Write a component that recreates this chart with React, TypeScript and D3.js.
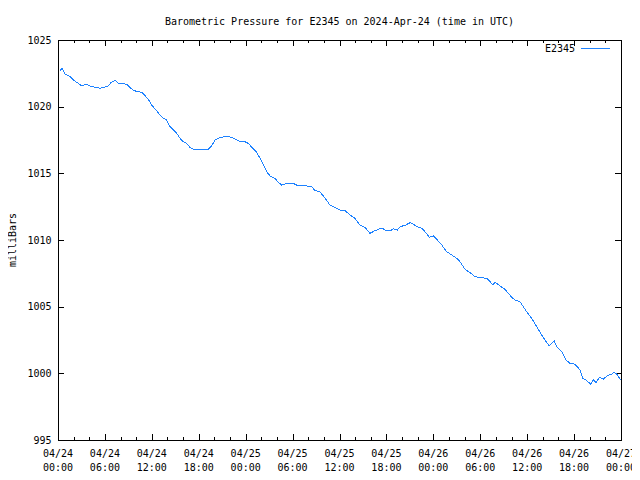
import React from "react";
import * as d3 from "d3";

const title = "Barometric Pressure for E2345 on 2024-Apr-24 (time in UTC)";
const yLabel = "milliBars";
const seriesName = "E2345";
const startTime = Date.UTC(2024, 3, 24, 0, 0);
const endTime = Date.UTC(2024, 3, 27, 0, 0);
const yTicks = [995, 1000, 1005, 1010, 1015, 1020, 1025];

// hours since 2024-04-24 00:00 UTC
const hours = [
  0.26, 0.55, 0.9, 1.53, 1.96, 2.6, 3.03, 3.58, 4.09, 4.73, 5.37, 6.01, 6.43, 6.78, 7.29, 7.71,
  8.35, 8.86, 9.21, 9.63, 10.14, 10.7, 11.13, 11.55, 11.98, 12.53, 13.05, 13.47, 13.9, 14.32,
  14.84, 15.18, 15.6, 16.03, 16.46, 16.88, 17.3, 18.16, 18.58, 19.22, 19.66, 20.08, 20.5, 21.14,
  22.0, 22.64, 23.28, 23.92, 24.47, 24.77, 25.41, 25.83, 26.26, 26.69, 27.2, 27.75, 28.17, 28.61,
  29.25, 30.09, 30.73, 31.37, 31.81, 32.45, 32.87, 33.51, 34.15, 34.79, 35.43, 36.07, 36.71,
  37.34, 37.98, 38.62, 39.26, 39.9, 40.54, 41.4, 41.82, 42.46, 42.88, 43.39, 43.74, 44.38, 45.02,
  45.44, 45.88, 46.52, 46.94, 47.49, 48.0, 48.43, 49.07, 49.71, 50.35, 50.99, 51.41, 52.05, 52.69,
  53.33, 54.19, 54.83, 55.25, 55.6, 55.89, 56.53, 57.17, 57.59, 58.03, 58.45, 59.09, 59.51, 59.94,
  60.58, 61.22, 61.86, 62.28, 62.83, 63.44, 63.78, 64.42, 64.97, 65.48, 66.12, 66.76, 67.11,
  67.62, 68.13, 68.46, 68.81, 69.23, 69.74, 70.18, 70.81, 71.11, 71.45, 71.66, 71.97,
];

const pressure = [
  1022.7, 1022.88, 1022.45, 1022.25, 1022.0, 1021.75, 1021.55, 1021.68, 1021.55, 1021.45, 1021.38,
  1021.48, 1021.55, 1021.8, 1021.98, 1021.75, 1021.75, 1021.63, 1021.42, 1021.25, 1021.12, 1021.08,
  1020.82, 1020.55, 1020.12, 1019.75, 1019.38, 1019.13, 1019.0, 1018.5, 1018.2, 1018.0, 1017.63,
  1017.37, 1017.25, 1016.95, 1016.8, 1016.8, 1016.75, 1016.82, 1017.07, 1017.5, 1017.63, 1017.73,
  1017.73, 1017.58, 1017.37, 1017.37, 1017.2, 1016.95, 1016.58, 1016.13, 1015.63, 1015.12,
  1014.75, 1014.63, 1014.33, 1014.12, 1014.25, 1014.25, 1014.05, 1014.07, 1014.05, 1014.0,
  1013.7, 1013.62, 1013.13, 1012.62, 1012.45, 1012.25, 1012.2, 1011.88, 1011.63, 1011.12,
  1010.95, 1010.5, 1010.7, 1010.9, 1010.75, 1010.68, 1010.83, 1010.75, 1011.0, 1011.1, 1011.3,
  1011.18, 1011.0, 1010.88, 1010.62, 1010.2, 1010.32, 1010.05, 1009.63, 1009.12, 1008.88,
  1008.63, 1008.37, 1007.8, 1007.55, 1007.25, 1007.17, 1007.13, 1006.88, 1006.63, 1006.83,
  1006.55, 1006.3, 1006.0, 1005.7, 1005.5, 1005.37, 1005.0, 1004.62, 1004.12, 1003.5, 1002.88,
  1002.5, 1002.07, 1002.45, 1002.0, 1001.62, 1001.0, 1000.75, 1000.68, 1000.25, 999.63, 999.45,
  999.18, 999.5, 999.3, 999.7, 999.55, 999.8, 999.95, 1000.08, 999.95, 999.75, 999.5,
];

const W = 640;
const H = 480;
const left = 58;
const right = 621;
const top = 40;
const bottom = 440;
const font = "'DejaVu Sans Mono', monospace";
const lineColor = "#1e82ff";

export default function App() {
  const x = d3
    .scaleUtc()
    .domain([new Date(startTime), new Date(endTime)])
    .range([left, right]);
  const y = d3.scaleLinear().domain([995, 1025]).range([bottom, top]);

  const data = hours.map((h, i) => ({ t: new Date(startTime + h * 3600000), v: pressure[i] }));
  const line = d3
    .line<{ t: Date; v: number }>()
    .x((d) => x(d.t))
    .y((d) => y(d.v));

  const majorX = d3.utcHour.every(6)!.range(new Date(startTime), new Date(endTime + 1));
  const minorX = d3.utcHour
    .every(2)!
    .range(new Date(startTime), new Date(endTime + 1))
    .filter((d) => d.getUTCHours() % 6 !== 0);
  const fmtDate = d3.utcFormat("%m/%d");
  const fmtTime = d3.utcFormat("%H:%M");

  const px = (v: number) => Math.round(v) + 0.5;
  const majorLen = 6;
  const minorLen = 3;

  return (
    <svg width={W} height={H} style={{ display: "block", margin: "-8px", background: "#fff" }}>
      <rect x={0} y={0} width={W} height={H} fill="#fff" />
      <text x={(left + right) / 2} y={25} textAnchor="middle" fontFamily={font} fontSize={10} fill="#000">
        {title}
      </text>
      <text
        transform={`translate(16,240) rotate(-90)`}
        textAnchor="middle"
        fontFamily={font}
        fontSize={10}
        fill="#000"
      >
        {yLabel}
      </text>
      <g shapeRendering="crispEdges" stroke="#000" strokeWidth={1}>
        {majorX.map((d, i) => (
          <g key={"mx" + i}>
            <line x1={px(x(d))} x2={px(x(d))} y1={bottom} y2={bottom - majorLen} />
            <line x1={px(x(d))} x2={px(x(d))} y1={top} y2={top + majorLen} />
          </g>
        ))}
        {minorX.map((d, i) => (
          <g key={"nx" + i}>
            <line x1={px(x(d))} x2={px(x(d))} y1={bottom} y2={bottom - minorLen} />
            <line x1={px(x(d))} x2={px(x(d))} y1={top} y2={top + minorLen} />
          </g>
        ))}
        {yTicks.map((v, i) => (
          <g key={"y" + i}>
            <line x1={left} x2={left + majorLen} y1={px(y(v))} y2={px(y(v))} />
            <line x1={right} x2={right - majorLen} y1={px(y(v))} y2={px(y(v))} />
          </g>
        ))}
        <rect x={left + 0.5} y={top + 0.5} width={right - left} height={bottom - top} fill="none" />
      </g>
      {yTicks.map((v, i) => (
        <text
          key={"yl" + i}
          x={51.5}
          y={y(v)}
          dy="0.35em"
          textAnchor="end"
          fontFamily={font}
          fontSize={10}
          fill="#000"
        >
          {v}
        </text>
      ))}
      {majorX.map((d, i) => (
        <g key={"xl" + i} fontFamily={font} fontSize={10} fill="#000" textAnchor="middle">
          <text x={x(d)} y={457}>
            {fmtDate(d)}
          </text>
          <text x={x(d)} y={471}>
            {fmtTime(d)}
          </text>
        </g>
      ))}
      <text x={575} y={52} textAnchor="end" fontFamily={font} fontSize={10} fill="#000">
        {seriesName}
      </text>
      <line x1={581} x2={610} y1={48.5} y2={48.5} stroke={lineColor} strokeWidth={1} shapeRendering="crispEdges" />
      <path d={line(data) ?? ""} fill="none" stroke={lineColor} strokeWidth={1} shapeRendering="crispEdges" />
    </svg>
  );
}
